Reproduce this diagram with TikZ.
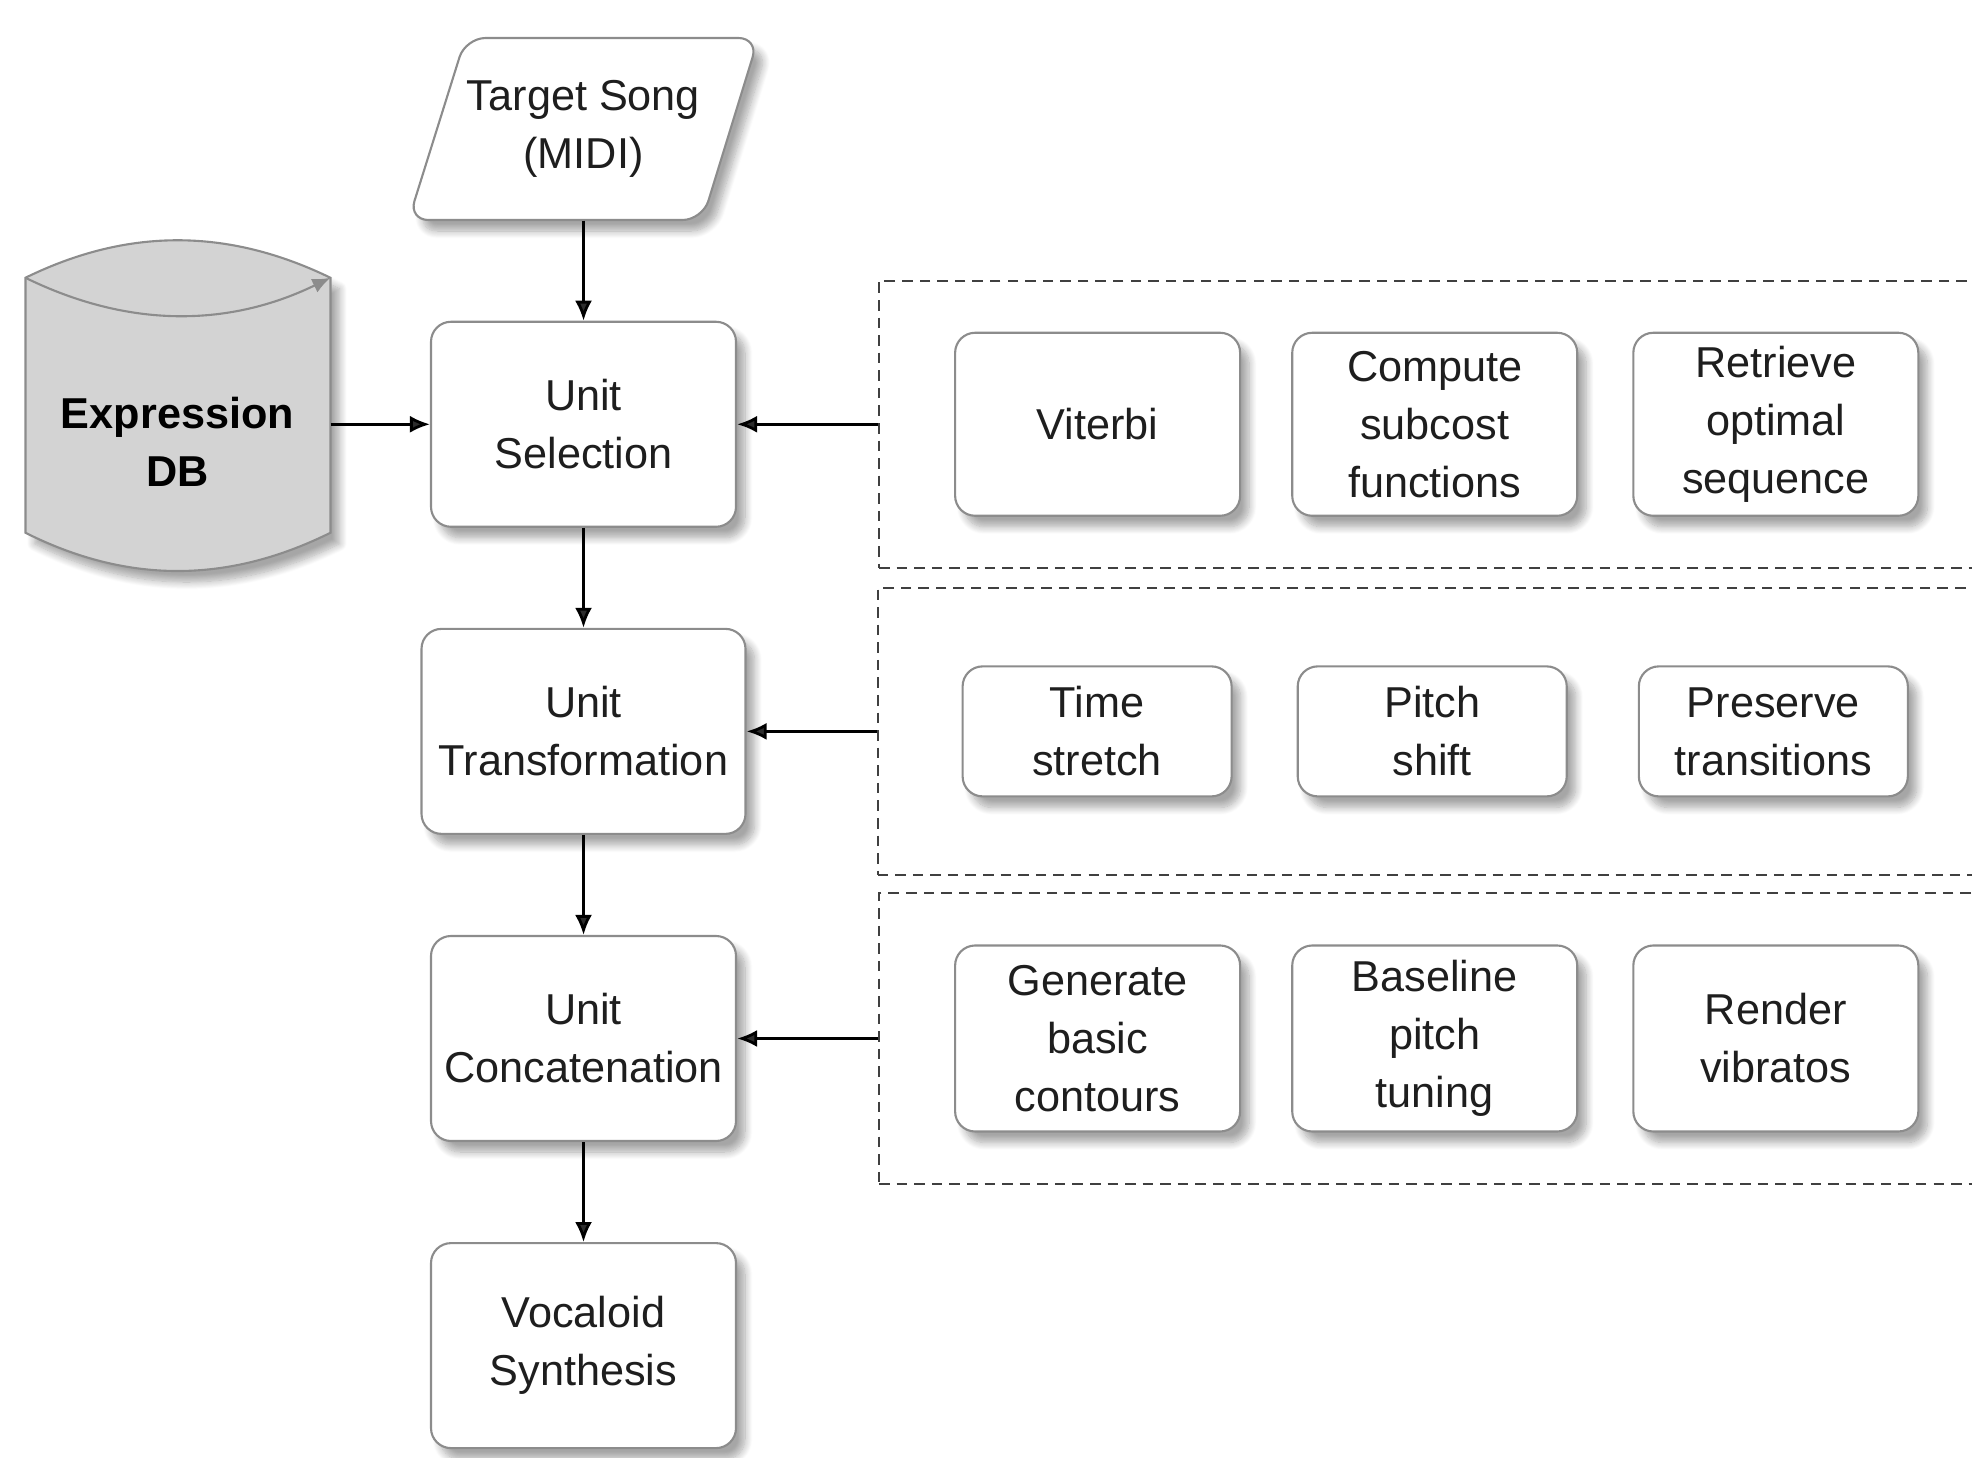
\documentclass[tikz,border=0pt]{standalone}
\usepackage{fontspec}
\setmainfont{Liberation Sans}
\usepackage{tikz}
\usetikzlibrary{arrows.meta,positioning,calc,shadows.blur}

\definecolor{edgegray}{HTML}{8C8C8C}
\definecolor{dbgray}{HTML}{D3D3D3}
\definecolor{inkgray}{HTML}{1E1E1E}
\newcommand{\boxfont}{\fontsize{12.3}{16.5}\selectfont}

\begin{document}
\begin{tikzpicture}[
  node distance=10mm and 5mm,
  dropshade/.style={blur shadow={shadow xshift=0.9mm, shadow yshift=-1.1mm, shadow blur steps=10, shadow opacity=35}},
  outline/.style={draw=edgegray, line width=0.6pt},
  block/.style={outline, fill=white, rounded corners=2mm, align=center, font=\boxfont, text=inkgray, minimum width=30.5mm, minimum height=20.5mm, dropshade},
  sub/.style={block, minimum width=28.5mm, minimum height=18.3mm},
  subsmall/.style={block, minimum width=26.9mm, minimum height=13mm},
  label/.style={align=center, font=\boxfont, text=inkgray},
  grp/.style={draw=black!75, dash pattern=on 3pt off 2pt, line width=0.6pt, minimum width=120mm, minimum height=28.7mm, anchor=west},
  arr/.style={-{Latex[length=2mm, width=1.7mm]}, line width=0.8pt}
]
\useasboundingbox (0,0) rectangle (19.72,-14.57);
\clip (0,0) rectangle (19.72,-14.57);

% input song (parallelogram)
\coordinate (tc) at (5.835,-1.29);
\path[shift={(tc)}, outline, fill=white, rounded corners=2mm, dropshade]
  (-1.75,-0.91) -- (-1.18,0.91) -- (1.75,0.91) -- (1.19,-0.91) -- cycle;
\node[label, minimum width=29mm, minimum height=18.2mm] (target) at (tc) {Target Song\\(MIDI)};

% main chain
\node[block, below=of target] (sel) {Unit\\Selection};
\node[block, below=of sel, minimum width=32.4mm] (trans) {Unit\\Transformation};
\node[block, below=of trans] (concat) {Unit\\Concatenation};
\node[block, below=of concat] (voc) {Vocaloid\\Synthesis};

% database
\coordinate (dbc) at ($(sel.west)+(-2.525,-0.175)$);
\path[shift={(dbc)}, outline, fill=dbgray, dropshade]
  (-1.52,1.64) -- (-1.52,-0.91) .. controls (-0.5,-1.42) and (0.5,-1.42) .. (1.53,-0.91)
  -- (1.53,1.64) .. controls (0.5,2.14) and (-0.5,2.14) .. (-1.52,1.64) -- cycle;
\draw[shift={(dbc)}, outline, -{Latex[length=1.8mm, width=1.5mm]}]
  (-1.52,1.64) .. controls (-0.5,1.14) and (0.5,1.14) .. (1.53,1.64);
\node[label, minimum width=30.5mm, font=\boxfont\bfseries, text=black] (db) at (dbc) {Expression\\DB};

% detail groups
\node[grp, right=14.1mm of sel] (g1) {};
\node[grp, right=13mm of trans] (g2) {};
\node[grp, right=14.1mm of concat, minimum height=29.1mm] (g3) {};

\node[sub, right=21.7mm of sel] (viterbi) {Viterbi};
\node[sub, right=5mm of viterbi] (subcost) {Compute\\subcost\\functions};
\node[sub, right=5.4mm of subcost] (retrieve) {Retrieve\\optimal\\sequence};

\node[subsmall, right=21.5mm of trans] (stretch) {Time\\stretch};
\node[subsmall, right=6.4mm of stretch] (shift) {Pitch\\shift};
\node[subsmall, right=7mm of shift] (preserve) {Preserve\\transitions};

\node[sub, right=21.7mm of concat, minimum height=18.6mm] (contours) {Generate\\basic\\contours};
\node[sub, right=5mm of contours, minimum height=18.6mm] (tuning) {Baseline\\pitch\\tuning};
\node[sub, right=5.4mm of tuning, minimum height=18.6mm] (vibrato) {Render\\vibratos};

% connectors
\draw[arr] (target) -- (sel);
\draw[arr] (sel) -- (trans);
\draw[arr] (trans) -- (concat);
\draw[arr] (concat) -- (voc);
\draw[arr] (db.east |- sel.west) -- (sel.west);
\draw[arr] (g1.west) -- (g1.west -| sel.east);
\draw[arr] (g2.west) -- (g2.west -| trans.east);
\draw[arr] (g3.west) -- (g3.west -| concat.east);
\end{tikzpicture}
\end{document}
